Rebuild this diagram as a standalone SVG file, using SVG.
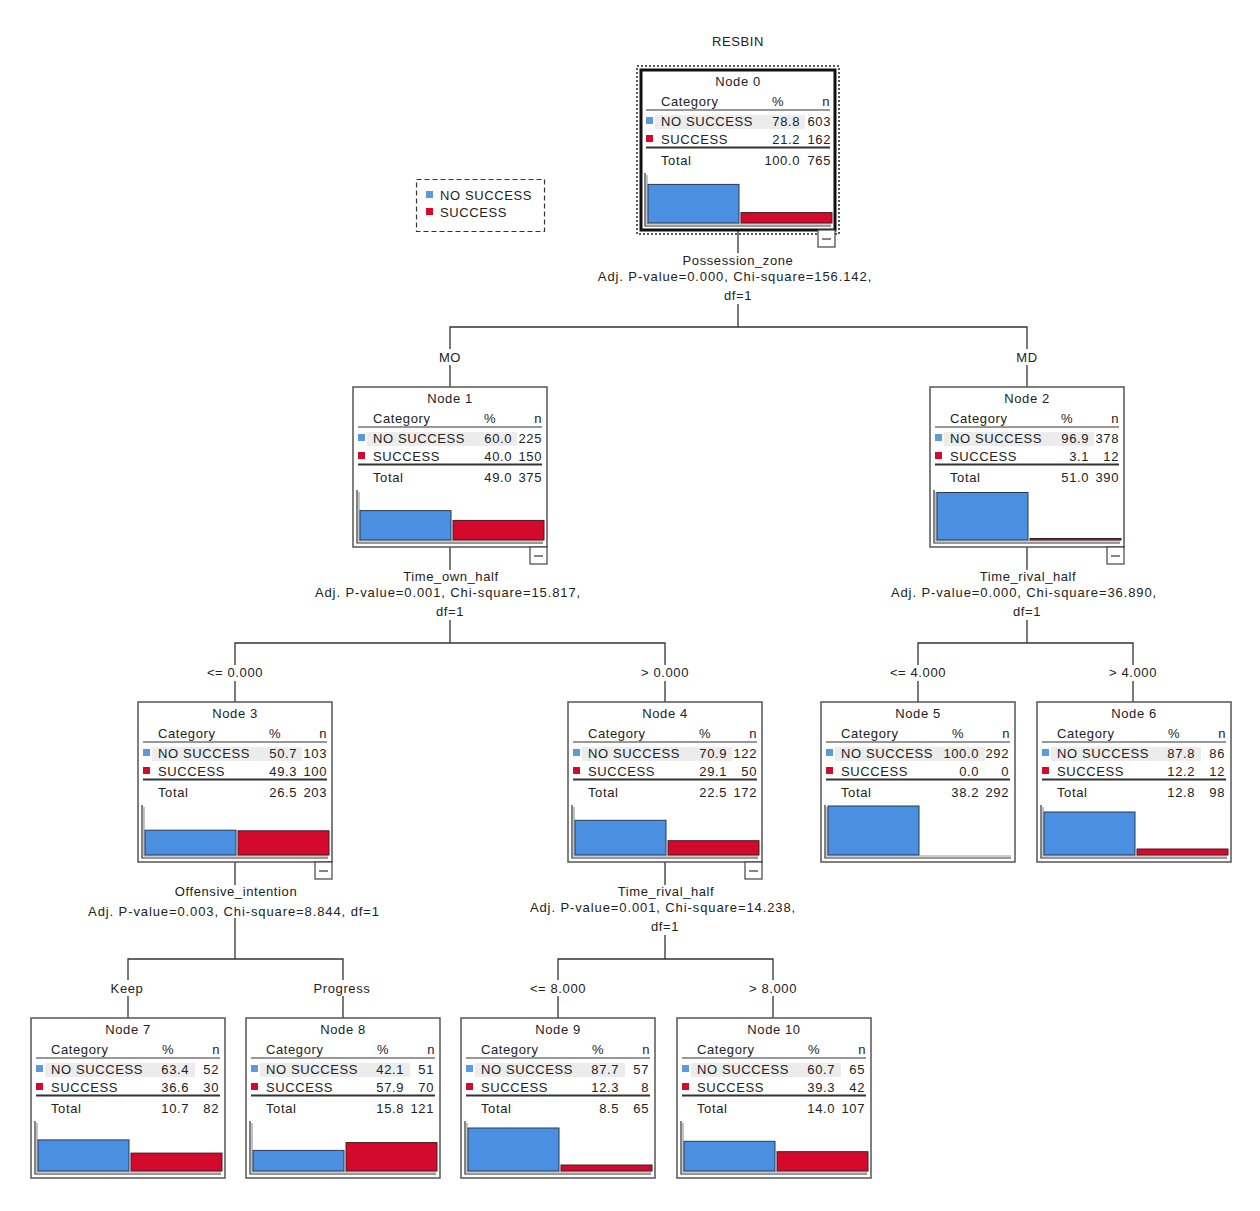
<svg xmlns="http://www.w3.org/2000/svg" xmlns:xlink="http://www.w3.org/1999/xlink" width="1260" height="1211" viewBox="0 0 1260 1211">
<style>
text{font-family:"Liberation Sans",Arial,sans-serif;font-size:13px;fill:#222;letter-spacing:0.6px}
.m{text-anchor:middle}
.e{text-anchor:end}
.adj{letter-spacing:0.9px}
.box{fill:#fff;stroke:#555;stroke-width:1.5}
.box0{fill:#fff;stroke:#111;stroke-width:3}
.ln{stroke:#333;stroke-width:1.2;fill:none}
.dbl{stroke:#333;stroke-width:2;fill:none}
.ax{stroke:#333;stroke-width:1.2;fill:none}
.ax2{stroke:#999;stroke-width:1.2;fill:none}
.band{fill:#ececec}
.b{fill:#4a8fe0;stroke:#2a3a55;stroke-width:1}
.r{fill:#d30a2c;stroke:#4a1a22;stroke-width:1}
.sb{fill:#5a9be0}
.sr{fill:#d30a2c}
.con{stroke:#333;stroke-width:1.3;fill:none}
.min{fill:#fff;stroke:#444;stroke-width:1.2}
</style>
<defs>
<g id="frame">
<rect class="band" x="14" y="45" width="150" height="14"/>
<text x="20" y="36">Category</text>
<text class="m" x="137" y="36">%</text>
<text class="e" x="189" y="36">n</text>
<line class="ln" x1="5" y1="40" x2="189" y2="40"/>
<rect class="sb" x="5" y="47" width="7" height="7"/>
<rect class="sr" x="5" y="65" width="7" height="7"/>
<text x="20" y="56">NO SUCCESS</text>
<text x="20" y="74">SUCCESS</text>
<line class="dbl" x1="5" y1="77.5" x2="189" y2="77.5"/>
<text x="20" y="95">Total</text>
<polyline class="ax2" points="6,105 6,154 190,154"/>
<polyline class="ax" points="4,103 4,156 190,156"/>
</g>
<g id="minus">
<rect class="min" x="177" y="160" width="17" height="17"/>
<line class="ln" x1="181" y1="169" x2="190" y2="169"/>
</g>
</defs>

<text class="m" x="738" y="46">RESBIN</text>

<g id="legend">
<rect x="416.5" y="179.5" width="128" height="52" fill="none" stroke="#333" stroke-width="1.2" stroke-dasharray="5 3"/>
<rect class="sb" x="426" y="191" width="7" height="7"/>
<rect class="sr" x="426" y="208" width="7" height="7"/>
<text x="440" y="200">NO SUCCESS</text>
<text x="440" y="217">SUCCESS</text>
</g>

<g id="connectors">
<polyline class="con" points="738,230 738,253"/>
<polyline class="con" points="738,304 738,327"/>
<polyline class="con" points="450,349 450,327 1027,327 1027,349"/>
<line class="con" x1="450" y1="365" x2="450" y2="387"/>
<line class="con" x1="1027" y1="365" x2="1027" y2="387"/>
<text class="m" x="738" y="265">Possession_zone</text>
<text class="m adj" x="735" y="281">Adj. P-value=0.000, Chi-square=156.142,</text>
<text class="m" x="738" y="300">df=1</text>
<text class="m" x="450" y="362">MO</text>
<text class="m" x="1027" y="362">MD</text>

<line class="con" x1="450" y1="547" x2="450" y2="570"/>
<line class="con" x1="450" y1="620" x2="450" y2="643"/>
<polyline class="con" points="235,665 235,643 665,643 665,665"/>
<line class="con" x1="235" y1="681" x2="235" y2="702"/>
<line class="con" x1="665" y1="681" x2="665" y2="702"/>
<text class="m" x="451" y="581">Time_own_half</text>
<text class="m adj" x="448" y="597">Adj. P-value=0.001, Chi-square=15.817,</text>
<text class="m" x="450" y="616">df=1</text>
<text class="m" x="235" y="677">&lt;= 0.000</text>
<text class="m" x="665" y="677">&gt; 0.000</text>

<line class="con" x1="1027" y1="547" x2="1027" y2="570"/>
<line class="con" x1="1027" y1="620" x2="1027" y2="643"/>
<polyline class="con" points="918,665 918,643 1133,643 1133,665"/>
<line class="con" x1="918" y1="681" x2="918" y2="702"/>
<line class="con" x1="1133" y1="681" x2="1133" y2="702"/>
<text class="m" x="1028" y="581">Time_rival_half</text>
<text class="m adj" x="1024" y="597">Adj. P-value=0.000, Chi-square=36.890,</text>
<text class="m" x="1027" y="616">df=1</text>
<text class="m" x="918" y="677">&lt;= 4.000</text>
<text class="m" x="1133" y="677">&gt; 4.000</text>

<line class="con" x1="235" y1="862" x2="235" y2="885"/>
<line class="con" x1="235" y1="918" x2="235" y2="959"/>
<polyline class="con" points="128,980 128,959 343,959 343,980"/>
<line class="con" x1="128" y1="996" x2="128" y2="1018"/>
<line class="con" x1="343" y1="996" x2="343" y2="1018"/>
<text class="m" x="236" y="896">Offensive_intention</text>
<text class="m adj" x="234" y="916">Adj. P-value=0.003, Chi-square=8.844, df=1</text>
<text class="m" x="127" y="993">Keep</text>
<text class="m" x="342" y="993">Progress</text>

<line class="con" x1="665" y1="862" x2="665" y2="885"/>
<line class="con" x1="665" y1="935" x2="665" y2="959"/>
<polyline class="con" points="558,980 558,959 773,959 773,980"/>
<line class="con" x1="558" y1="996" x2="558" y2="1018"/>
<line class="con" x1="773" y1="996" x2="773" y2="1018"/>
<text class="m" x="666" y="896">Time_rival_half</text>
<text class="m adj" x="663" y="912">Adj. P-value=0.001, Chi-square=14.238,</text>
<text class="m" x="665" y="931">df=1</text>
<text class="m" x="558" y="993">&lt;= 8.000</text>
<text class="m" x="773" y="993">&gt; 8.000</text>
</g>

<g id="node0" transform="translate(641,70)">
<rect x="-4" y="-4" width="202" height="168" fill="none" stroke="#222" stroke-width="1.5" stroke-dasharray="2 2"/>
<rect class="box0" x="0" y="0" width="194" height="160"/>
<use xlink:href="#frame"/>
<text class="m" x="97" y="16">Node 0</text>
<text class="e" x="159" y="56">78.8</text><text class="e" x="190" y="56">603</text>
<text class="e" x="159" y="74">21.2</text><text class="e" x="190" y="74">162</text>
<text class="e" x="159" y="95">100.0</text><text class="e" x="190" y="95">765</text>
<rect class="b" x="7" y="114.4" width="91" height="38.6"/>
<rect class="r" x="100" y="142.6" width="91" height="10.4"/>
<use xlink:href="#minus"/>
</g>

<g id="node1" transform="translate(353,387)">
<rect class="box" x="0" y="0" width="194" height="160"/>
<use xlink:href="#frame"/>
<text class="m" x="97" y="16">Node 1</text>
<text class="e" x="159" y="56">60.0</text><text class="e" x="189" y="56">225</text>
<text class="e" x="159" y="74">40.0</text><text class="e" x="189" y="74">150</text>
<text class="e" x="159" y="95">49.0</text><text class="e" x="189" y="95">375</text>
<rect class="b" x="7" y="123.6" width="91" height="29.4"/>
<rect class="r" x="100" y="133.4" width="91" height="19.6"/>
<use xlink:href="#minus"/>
</g>

<g id="node2" transform="translate(930,387)">
<rect class="box" x="0" y="0" width="194" height="160"/>
<use xlink:href="#frame"/>
<text class="m" x="97" y="16">Node 2</text>
<text class="e" x="159" y="56">96.9</text><text class="e" x="189" y="56">378</text>
<text class="e" x="159" y="74">3.1</text><text class="e" x="189" y="74">12</text>
<text class="e" x="159" y="95">51.0</text><text class="e" x="189" y="95">390</text>
<rect class="b" x="7" y="105.5" width="91" height="47.5"/>
<rect class="r" x="100" y="151.5" width="91" height="1.5"/>
<use xlink:href="#minus"/>
</g>

<g id="node3" transform="translate(138,702)">
<rect class="box" x="0" y="0" width="194" height="160"/>
<use xlink:href="#frame"/>
<text class="m" x="97" y="16">Node 3</text>
<text class="e" x="159" y="56">50.7</text><text class="e" x="189" y="56">103</text>
<text class="e" x="159" y="74">49.3</text><text class="e" x="189" y="74">100</text>
<text class="e" x="159" y="95">26.5</text><text class="e" x="189" y="95">203</text>
<rect class="b" x="7" y="128.2" width="91" height="24.8"/>
<rect class="r" x="100" y="128.8" width="91" height="24.2"/>
<use xlink:href="#minus"/>
</g>

<g id="node4" transform="translate(568,702)">
<rect class="box" x="0" y="0" width="194" height="160"/>
<use xlink:href="#frame"/>
<text class="m" x="97" y="16">Node 4</text>
<text class="e" x="159" y="56">70.9</text><text class="e" x="189" y="56">122</text>
<text class="e" x="159" y="74">29.1</text><text class="e" x="189" y="74">50</text>
<text class="e" x="159" y="95">22.5</text><text class="e" x="189" y="95">172</text>
<rect class="b" x="7" y="118.3" width="91" height="34.7"/>
<rect class="r" x="100" y="138.7" width="91" height="14.3"/>
<use xlink:href="#minus"/>
</g>

<g id="node5" transform="translate(821,702)">
<rect class="box" x="0" y="0" width="194" height="160"/>
<use xlink:href="#frame"/>
<text class="m" x="97" y="16">Node 5</text>
<text class="e" x="158" y="56">100.0</text><text class="e" x="188" y="56">292</text>
<text class="e" x="158" y="74">0.0</text><text class="e" x="188" y="74">0</text>
<text class="e" x="158" y="95">38.2</text><text class="e" x="188" y="95">292</text>
<rect class="b" x="7" y="104" width="91" height="49"/>
</g>

<g id="node6" transform="translate(1037,702)">
<rect class="box" x="0" y="0" width="194" height="160"/>
<use xlink:href="#frame"/>
<text class="m" x="97" y="16">Node 6</text>
<text class="e" x="158" y="56">87.8</text><text class="e" x="188" y="56">86</text>
<text class="e" x="158" y="74">12.2</text><text class="e" x="188" y="74">12</text>
<text class="e" x="158" y="95">12.8</text><text class="e" x="188" y="95">98</text>
<rect class="b" x="7" y="110" width="91" height="43"/>
<rect class="r" x="100" y="147" width="91" height="6"/>
</g>

<g id="node7" transform="translate(31,1018)">
<rect class="box" x="0" y="0" width="194" height="160"/>
<use xlink:href="#frame"/>
<text class="m" x="97" y="16">Node 7</text>
<text class="e" x="158" y="56">63.4</text><text class="e" x="188" y="56">52</text>
<text class="e" x="158" y="74">36.6</text><text class="e" x="188" y="74">30</text>
<text class="e" x="158" y="95">10.7</text><text class="e" x="188" y="95">82</text>
<rect class="b" x="7" y="121.9" width="91" height="31.1"/>
<rect class="r" x="100" y="135.1" width="91" height="17.9"/>
</g>

<g id="node8" transform="translate(246,1018)">
<rect class="box" x="0" y="0" width="194" height="160"/>
<use xlink:href="#frame"/>
<text class="m" x="97" y="16">Node 8</text>
<text class="e" x="158" y="56">42.1</text><text class="e" x="188" y="56">51</text>
<text class="e" x="158" y="74">57.9</text><text class="e" x="188" y="74">70</text>
<text class="e" x="158" y="95">15.8</text><text class="e" x="188" y="95">121</text>
<rect class="b" x="7" y="132.4" width="91" height="20.6"/>
<rect class="r" x="100" y="124.6" width="91" height="28.4"/>
</g>

<g id="node9" transform="translate(461,1018)">
<rect class="box" x="0" y="0" width="194" height="160"/>
<use xlink:href="#frame"/>
<text class="m" x="97" y="16">Node 9</text>
<text class="e" x="158" y="56">87.7</text><text class="e" x="188" y="56">57</text>
<text class="e" x="158" y="74">12.3</text><text class="e" x="188" y="74">8</text>
<text class="e" x="158" y="95">8.5</text><text class="e" x="188" y="95">65</text>
<rect class="b" x="7" y="110" width="91" height="43"/>
<rect class="r" x="100" y="147" width="91" height="6"/>
</g>

<g id="node10" transform="translate(677,1018)">
<rect class="box" x="0" y="0" width="194" height="160"/>
<use xlink:href="#frame"/>
<text class="m" x="97" y="16">Node 10</text>
<text class="e" x="158" y="56">60.7</text><text class="e" x="188" y="56">65</text>
<text class="e" x="158" y="74">39.3</text><text class="e" x="188" y="74">42</text>
<text class="e" x="158" y="95">14.0</text><text class="e" x="188" y="95">107</text>
<rect class="b" x="7" y="123.3" width="91" height="29.7"/>
<rect class="r" x="100" y="133.7" width="91" height="19.3"/>
</g>
</svg>
